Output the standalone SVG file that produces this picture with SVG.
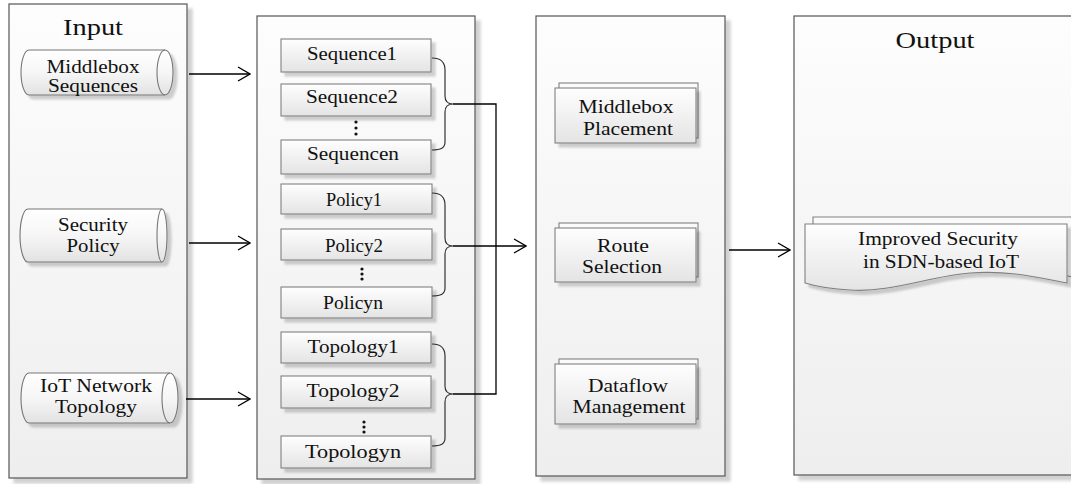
<svg xmlns="http://www.w3.org/2000/svg" width="1071" height="484" viewBox="0 0 1071 484">
  <defs>
    <linearGradient id="gPanel" x1="0" y1="0" x2="0" y2="1">
      <stop offset="0" stop-color="#fdfdfd"/>
      <stop offset="1" stop-color="#eeeeee"/>
    </linearGradient>
    <linearGradient id="gBox" x1="0" y1="0" x2="0" y2="1">
      <stop offset="0" stop-color="#fefefe"/>
      <stop offset="1" stop-color="#e4e4e4"/>
    </linearGradient>
    <linearGradient id="gCyl" x1="0" y1="0" x2="0" y2="1">
      <stop offset="0" stop-color="#ffffff"/>
      <stop offset="0.5" stop-color="#f6f6f6"/>
      <stop offset="1" stop-color="#e2e2e2"/>
    </linearGradient>
    <filter id="shadow" x="-10%" y="-10%" width="130%" height="130%">
      <feDropShadow dx="5" dy="5" stdDeviation="1.5" flood-color="#000" flood-opacity="0.18"/>
    </filter>
    <filter id="shadowSm" x="-10%" y="-20%" width="130%" height="150%">
      <feDropShadow dx="4" dy="4" stdDeviation="1.2" flood-color="#000" flood-opacity="0.18"/>
    </filter>
    <marker id="open" markerWidth="14" markerHeight="16" refX="13" refY="8" orient="auto" markerUnits="userSpaceOnUse">
      <path d="M1,1 L13,8 L1,15" fill="none" stroke="#000" stroke-width="1.3"/>
    </marker>
  </defs>
  <style>
    .panel { fill: url(#gPanel); stroke: #555; stroke-width: 1.2; filter: url(#shadow); }
    .box { fill: url(#gBox); stroke: #808080; stroke-width: 1.1; filter: url(#shadowSm); }
    .back { fill: #fafafa; stroke: #808080; stroke-width: 1.1; }
    .cyl { fill: url(#gCyl); stroke: #777; stroke-width: 1.1; filter: url(#shadowSm); }
    .cap { fill: none; stroke: #777; stroke-width: 1.1; }
    .t { font-family: "Liberation Serif", "Times New Roman", serif; font-size: 19px; fill: #111; text-anchor: middle; }
    .title { font-family: "Liberation Serif", "Times New Roman", serif; font-size: 23px; fill: #111; text-anchor: middle; }
    .brace { fill: none; stroke: #333; stroke-width: 1.2; }
    .wire { fill: none; stroke: #000; stroke-width: 1.3; }
    .dot { fill: #111; }
  </style>

  <!-- Input column -->
  <g id="input">
    <rect class="panel" x="9" y="4" width="178" height="474"/>
    <text class="title" x="93" y="35" textLength="60" lengthAdjust="spacingAndGlyphs">Input</text>
  </g>
  <g id="in-sequences">
    <path class="cyl" d="M29,50 L165,50 A8,22.5 0 0 1 165,95 L29,95 A8,22.5 0 0 1 29,50 Z"/>
    <path class="cap" d="M165,50 A8,22.5 0 0 0 165,95"/>
    <text class="t" x="93" y="73" textLength="93" lengthAdjust="spacingAndGlyphs">Middlebox</text>
    <text class="t" x="93" y="92" textLength="90" lengthAdjust="spacingAndGlyphs">Sequences</text>
  </g>
  <g id="in-policy">
    <path class="cyl" d="M28,209 L162,209 A5,26.5 0 0 1 162,262 L28,262 A8,26.5 0 0 1 28,209 Z"/>
    <path class="cap" d="M162,209 A5,26.5 0 0 0 162,262"/>
    <text class="t" x="93" y="231" textLength="70" lengthAdjust="spacingAndGlyphs">Security</text>
    <text class="t" x="93" y="252" textLength="53" lengthAdjust="spacingAndGlyphs">Policy</text>
  </g>
  <g id="in-topology">
    <path class="cyl" d="M29,373 L170,373 A8,25 0 0 1 170,423 L29,423 A8,25 0 0 1 29,373 Z"/>
    <path class="cap" d="M170,373 A8,25 0 0 0 170,423"/>
    <text class="t" x="96" y="392" textLength="112" lengthAdjust="spacingAndGlyphs">IoT Network</text>
    <text class="t" x="96" y="413" textLength="82" lengthAdjust="spacingAndGlyphs">Topology</text>
  </g>

  <!-- Itemised inputs -->
  <g id="items">
    <rect class="panel" x="257" y="16" width="218" height="463"/>
  </g>
  <g id="seq-list">
    <rect class="box" x="281" y="39" width="150" height="33"/>
    <text class="t" x="352" y="60" textLength="90" lengthAdjust="spacingAndGlyphs">Sequence1</text>
    <rect class="box" x="281" y="84" width="150" height="32"/>
    <text class="t" x="352" y="103" textLength="92" lengthAdjust="spacingAndGlyphs">Sequence2</text>
    <circle class="dot" cx="356" cy="122" r="1.6"/>
    <circle class="dot" cx="356" cy="128" r="1.6"/>
    <circle class="dot" cx="356" cy="134" r="1.6"/>
    <rect class="box" x="281" y="140" width="150" height="34"/>
    <text class="t" x="353" y="160" textLength="92" lengthAdjust="spacingAndGlyphs">Sequencen</text>
  </g>
  <g id="policy-list">
    <rect class="box" x="281" y="184" width="151" height="30"/>
    <text class="t" x="354" y="206" textLength="56" lengthAdjust="spacingAndGlyphs">Policy1</text>
    <rect class="box" x="281" y="229" width="151" height="31"/>
    <text class="t" x="354" y="252" textLength="58" lengthAdjust="spacingAndGlyphs">Policy2</text>
    <circle class="dot" cx="362" cy="269" r="1.6"/>
    <circle class="dot" cx="362" cy="274" r="1.6"/>
    <circle class="dot" cx="362" cy="279" r="1.6"/>
    <rect class="box" x="281" y="287" width="151" height="31"/>
    <text class="t" x="353" y="309" textLength="60" lengthAdjust="spacingAndGlyphs">Policyn</text>
  </g>
  <g id="topology-list">
    <rect class="box" x="281" y="332" width="150" height="31"/>
    <text class="t" x="353" y="353" textLength="91" lengthAdjust="spacingAndGlyphs">Topology1</text>
    <rect class="box" x="281" y="376" width="150" height="32"/>
    <text class="t" x="353" y="397" textLength="93" lengthAdjust="spacingAndGlyphs">Topology2</text>
    <circle class="dot" cx="364" cy="422" r="1.6"/>
    <circle class="dot" cx="364" cy="427" r="1.6"/>
    <circle class="dot" cx="364" cy="432" r="1.6"/>
    <rect class="box" x="281" y="436" width="150" height="32"/>
    <text class="t" x="353" y="458" textLength="96" lengthAdjust="spacingAndGlyphs">Topologyn</text>
  </g>

  <!-- Processing stages -->
  <g id="stages">
    <rect class="panel" x="536" y="16" width="189" height="460"/>
  </g>
  <g id="placement">
    <rect class="back" x="559" y="83" width="139" height="55"/>
    <rect class="box" x="555" y="88" width="141" height="55"/>
    <text class="t" x="626" y="113" textLength="95" lengthAdjust="spacingAndGlyphs">Middlebox</text>
    <text class="t" x="628" y="135" textLength="90" lengthAdjust="spacingAndGlyphs">Placement</text>
  </g>
  <g id="route">
    <rect class="back" x="559" y="223" width="139" height="54"/>
    <rect class="box" x="555" y="228" width="141" height="54"/>
    <text class="t" x="623" y="252" textLength="52" lengthAdjust="spacingAndGlyphs">Route</text>
    <text class="t" x="622" y="273" textLength="80" lengthAdjust="spacingAndGlyphs">Selection</text>
  </g>
  <g id="dataflow">
    <rect class="back" x="559" y="359" width="139" height="60"/>
    <rect class="box" x="555" y="364" width="141" height="60"/>
    <text class="t" x="628" y="392" textLength="80" lengthAdjust="spacingAndGlyphs">Dataflow</text>
    <text class="t" x="629" y="413" textLength="113" lengthAdjust="spacingAndGlyphs">Management</text>
  </g>

  <!-- Output column -->
  <g id="output">
    <rect class="panel" x="794" y="16" width="290" height="459"/>
    <text class="title" x="935" y="48" textLength="79" lengthAdjust="spacingAndGlyphs">Output</text>
  </g>
  <g id="result">
    <path class="back" d="M813,217 L1075,217 L1075,277 C1040,272 1000,268 960,272 C920,278 880,290 813,280 Z"/>
    <path class="box" d="M805,224 L1067,224 L1067,283 C1040,278 1010,270 970,273 C930,276 890,293 850,290 C830,289 815,286 805,283 Z"/>
    <text class="t" x="938" y="245" textLength="160" lengthAdjust="spacingAndGlyphs">Improved Security</text>
    <text class="t" x="941" y="268" textLength="156" lengthAdjust="spacingAndGlyphs">in SDN-based IoT</text>
  </g>

  <!-- Connectors -->
  <g id="connectors">
    <line class="wire" x1="189" y1="74" x2="250" y2="74" marker-end="url(#open)"/>
    <line class="wire" x1="189" y1="243" x2="250" y2="243" marker-end="url(#open)"/>
    <line class="wire" x1="186" y1="399" x2="250" y2="399" marker-end="url(#open)"/>
    <path class="brace" d="M432,58 C441,58 445,62 445,70 L445,96 C445,102 448,104 453,104 C448,104 445,106 445,112 L445,142 C445,148 441,150 432,150"/>
    <path class="brace" d="M432,193 C441,193 445,197 445,205 L445,238 C445,244 448,246 453,246 C448,246 445,248 445,254 L445,288 C445,294 441,296 432,296"/>
    <path class="brace" d="M432,344 C441,344 445,348 445,356 L445,386 C445,392 448,394 453,394 C448,394 445,396 445,402 L445,438 C445,444 441,446 432,446"/>
    <path class="wire" d="M453,104 H496 V394 H453"/>
    <line class="wire" x1="453" y1="246" x2="526" y2="246" marker-end="url(#open)"/>
    <line class="wire" x1="729" y1="250" x2="790" y2="250" marker-end="url(#open)"/>
  </g>
</svg>
